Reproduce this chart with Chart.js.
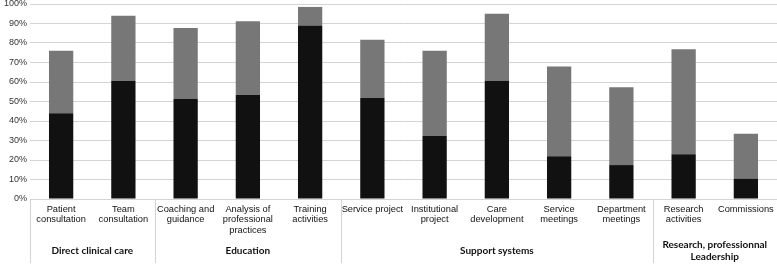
<!DOCTYPE html>
<html lang="en">
<head>
    <meta charset="UTF-8">
    <title>Activity distribution</title>
    <script src="https://cdn.jsdelivr.net/npm/chart.js"></script>
    <style>
        body {
            margin: 0;
            background: #fff;
        }
        #wrap {
            position: relative;
            width: 777px;
            height: 265px;
        }
    </style>
</head>
<body>
    <div id="wrap"><canvas id="activityChart"></canvas></div>
    <script>
        // categories (multi-line labels as in the original)
        const categories = [
            ['Patient', 'consultation'],
            ['Team', 'consultation'],
            ['Coaching and', 'guidance'],
            ['Analysis of', 'professional', 'practices'],
            ['Training', 'activities'],
            ['Service project'],
            ['Institutional', 'project'],
            ['Care', 'development'],
            ['Service', 'meetings'],
            ['Department', 'meetings'],
            ['Research', 'activities'],
            ['Commissions']
        ];
        // bottom (black) and top (grey) parts, in %
        const blackValues = [44, 60.5, 51.3, 53.3, 89, 51.8, 32.5, 60.7, 21.9, 17.4, 22.9, 10.3];
        const greyValues = [32, 33.5, 36.4, 37.8, 9.5, 29.9, 43.5, 34.3, 46, 39.9, 53.9, 23.2];
        // category groups under the axis
        const groupNames = [
            ['Direct clinical care'],
            ['Education'],
            ['Support systems'],
            ['Research, professionnal', 'Leadership']
        ];
        const groupSizes = [2, 3, 5, 2];
        const yTicks = [0, 10, 20, 30, 40, 50, 60, 70, 80, 90, 100];

        const lineColor = '#d4d4d4';

        // draws the group separators and group names below the category labels
        const groupPlugin = {
            id: 'groups',
            afterDraw(chart) {
                const ctx = chart.ctx;
                const x = chart.scales.x;
                const step = x.getPixelForValue(1) - x.getPixelForValue(0);
                const top = x.top;
                const bottom = chart.height - 2;
                ctx.save();
                ctx.strokeStyle = lineColor;
                ctx.lineWidth = 1;
                ctx.fillStyle = '#111';
                ctx.font = 'bold 10px Lato, "Liberation Sans", sans-serif';
                ctx.textAlign = 'center';
                ctx.textBaseline = 'middle';
                let start = 0;
                groupSizes.forEach((size, g) => {
                    const left = x.getPixelForValue(start) - step / 2;
                    const right = x.getPixelForValue(start + size - 1) + step / 2;
                    const lx = Math.round(left) + 0.5;
                    ctx.beginPath();
                    ctx.moveTo(lx, top);
                    ctx.lineTo(lx, bottom);
                    ctx.stroke();
                    const lines = groupNames[g];
                    const cx = (left + right) / 2;
                    const lh = 11.5;
                    const cy = 251 - (lines.length - 1) * lh / 2;
                    lines.forEach((t, i) => ctx.fillText(t, cx, cy + i * lh));
                    start += size;
                });
                ctx.restore();
            }
        };

        const ctx = document.getElementById('activityChart').getContext('2d');
        new Chart(ctx, {
            type: 'bar',
            data: {
                labels: categories,
                datasets: [
                    {
                        label: 'Part 1',
                        data: blackValues,
                        backgroundColor: '#111111',
                        barPercentage: 0.39,
                        categoryPercentage: 1
                    },
                    {
                        label: 'Part 2',
                        data: greyValues,
                        backgroundColor: '#777777',
                        barPercentage: 0.39,
                        categoryPercentage: 1
                    }
                ]
            },
            options: {
                responsive: true,
                maintainAspectRatio: false,
                animation: false,
                layout: {
                    padding: 0
                },
                plugins: {
                    legend: { display: false },
                    tooltip: { enabled: false }
                },
                scales: {
                    x: {
                        stacked: true,
                        grid: { display: false, drawTicks: false },
                        border: { color: lineColor },
                        afterFit: scale => {
                            scale.height = 66;
                            scale.paddingLeft = 0;
                            scale.paddingRight = 0;
                        },
                        ticks: {
                            autoSkip: false,
                            maxRotation: 0,
                            minRotation: 0,
                            padding: 5,
                            color: '#111',
                            font: {
                                family: '"Liberation Sans", Arial, sans-serif',
                                size: 9.3,
                                lineHeight: 1.13
                            }
                        }
                    },
                    y: {
                        stacked: true,
                        min: 0,
                        max: 100,
                        afterFit: scale => {
                            scale.width = 30;
                            scale.paddingTop = 4;
                            scale.paddingBottom = 0;
                        },
                        afterBuildTicks: scale => {
                            scale.ticks = yTicks.map(v => ({ value: v }));
                        },
                        grid: {
                            color: lineColor,
                            drawTicks: false
                        },
                        border: { display: false },
                        ticks: {
                            padding: 3,
                            color: '#333',
                            font: {
                                family: '"Liberation Sans", Arial, sans-serif',
                                size: 9
                            },
                            callback: v => v + '%'
                        }
                    }
                }
            },
            plugins: [groupPlugin]
        });
    </script>
</body>
</html>
